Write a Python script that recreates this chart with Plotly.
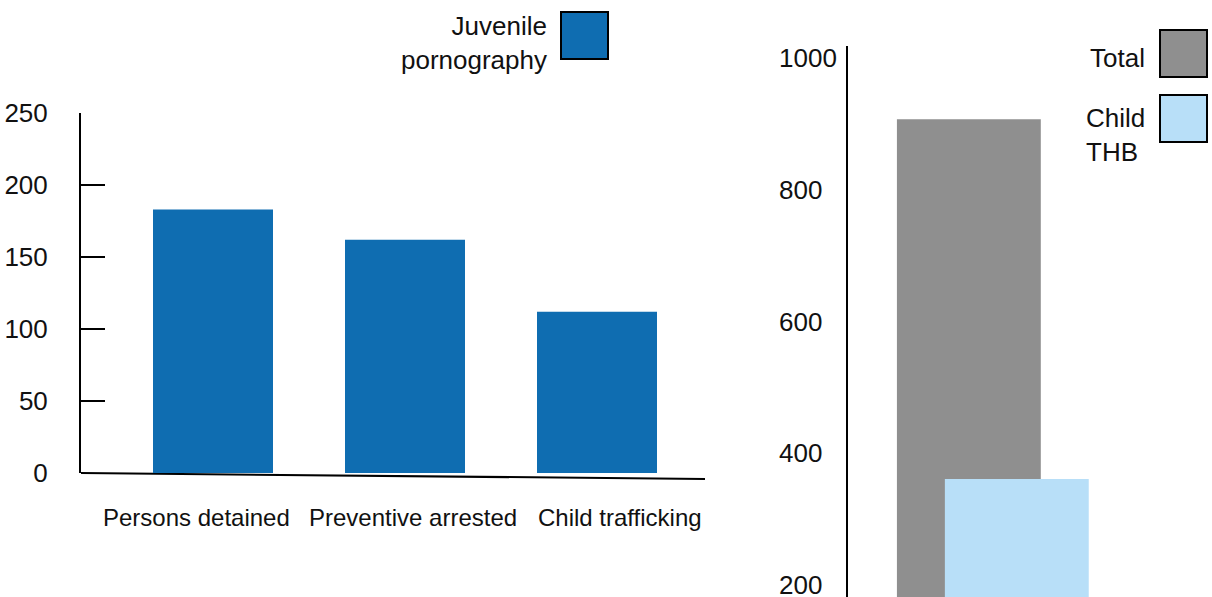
import plotly.graph_objects as go

# Juvenile pornography cases
jp_categories = ["Persons detained", "Preventive arrested", "Child trafficking"]
jp_values = [183, 162, 112]
jp_ticks = [0, 50, 100, 150, 200, 250]

# Trafficking in human beings: total vs child victims
thb_names = ["Total", "Child THB"]
thb_values = [907, 361]
thb_ticks = [200, 400, 600, 800, 1000]

BLUE = "#0f6db1"
GREY = "#8f8f8f"
LIGHT = "#b8dff8"
FONT = "Liberation Sans, Arial, sans-serif"

W, H = 1212, 597

# horizontal nudges that keep the category captions from colliding
caption_shift = [-17, 8, 23]


def px(x):
    return x / W


def py(y):
    return 1 - y / H


fig = go.Figure()

fig.add_trace(go.Bar(
    x=jp_categories, y=jp_values, marker=dict(color=BLUE, line=dict(width=0)),
    width=0.625, xaxis="x", yaxis="y", showlegend=False,
))

thb_colors = [GREY, LIGHT]
thb_offsets = [-0.5, -0.5 + 1 / 3]
for name, val, col, off in zip(thb_names, thb_values, thb_colors, thb_offsets):
    fig.add_trace(go.Bar(
        x=[""], y=[val], name=name, marker=dict(color=col, line=dict(width=0)),
        width=1, offset=off, xaxis="x2", yaxis="y2", showlegend=False,
    ))

fig.update_layout(
    width=W, height=H,
    margin=dict(l=0, r=0, t=0, b=0, autoexpand=False),
    paper_bgcolor="white", plot_bgcolor="rgba(0,0,0,0)",
    barmode="overlay",
    font=dict(family=FONT, color="#111111", size=26),
    xaxis=dict(
        domain=[px(81), px(705)], anchor="y", type="category",
        range=[-0.6875, 2.5625], showline=False, showgrid=False, zeroline=False,
        ticks="", showticklabels=False, automargin=False,
    ),
    yaxis=dict(
        domain=[py(473), py(113)], anchor="x", range=[0, 250],
        tickvals=jp_ticks, showline=True, linecolor="black", linewidth=2,
        ticks="inside", ticklen=24, tickwidth=2, tickcolor="black",
        showgrid=False, zeroline=False, tickfont=dict(size=26),
        ticklabelstandoff=26, automargin=False,
    ),
    xaxis2=dict(
        domain=[px(848), 1], anchor="y2", type="category",
        range=[-0.84, 1.69], visible=False, automargin=False,
    ),
    yaxis2=dict(
        domain=[0, py(46)], anchor="x2", range=[182, 1018],
        showline=True, linecolor="black", linewidth=2, ticks="",
        showticklabels=False, showgrid=False, zeroline=False, automargin=False,
    ),
)

# Slanted baseline under the left bars
fig.add_shape(type="line", xref="x domain", yref="paper", x0=0, y0=py(473), x1=1, y1=py(479),
              line=dict(color="black", width=2), layer="below")

# Category captions below the baseline
for cat, dx in zip(jp_categories, caption_shift):
    fig.add_annotation(x=cat, y=py(517), xref="x", yref="paper", text=cat,
                       xanchor="center", yanchor="middle", xshift=dx,
                       showarrow=False, font=dict(size=24))

# Left-aligned tick labels for the right axis
for v in thb_ticks:
    fig.add_annotation(x=px(777), y=v, xref="paper", yref="y2", text=str(v),
                       xanchor="left", yanchor="middle", showarrow=False,
                       font=dict(size=26))

# Legends: text followed by a bordered swatch
legend_items = [
    ("Juvenile<br>pornography", BLUE, 549, 43, 561, 12, "right"),
    ("Total", GREY, 1147, 58, 1160, 30, "right"),
    ("Child<br>THB", LIGHT, 1147, 135, 1160, 95, "left"),
]
for text, col, tx, ty, bx, by, align in legend_items:
    fig.add_annotation(x=px(tx), y=py(ty), xref="paper", yref="paper", text=text,
                       xanchor="right", yanchor="middle", align=align,
                       showarrow=False, font=dict(size=26))
    fig.add_shape(type="rect", xref="paper", yref="paper",
                  x0=px(bx), x1=px(bx + 47), y0=py(by + 47), y1=py(by),
                  fillcolor=col, line=dict(color="black", width=2))

fig.write_html("out.html")
